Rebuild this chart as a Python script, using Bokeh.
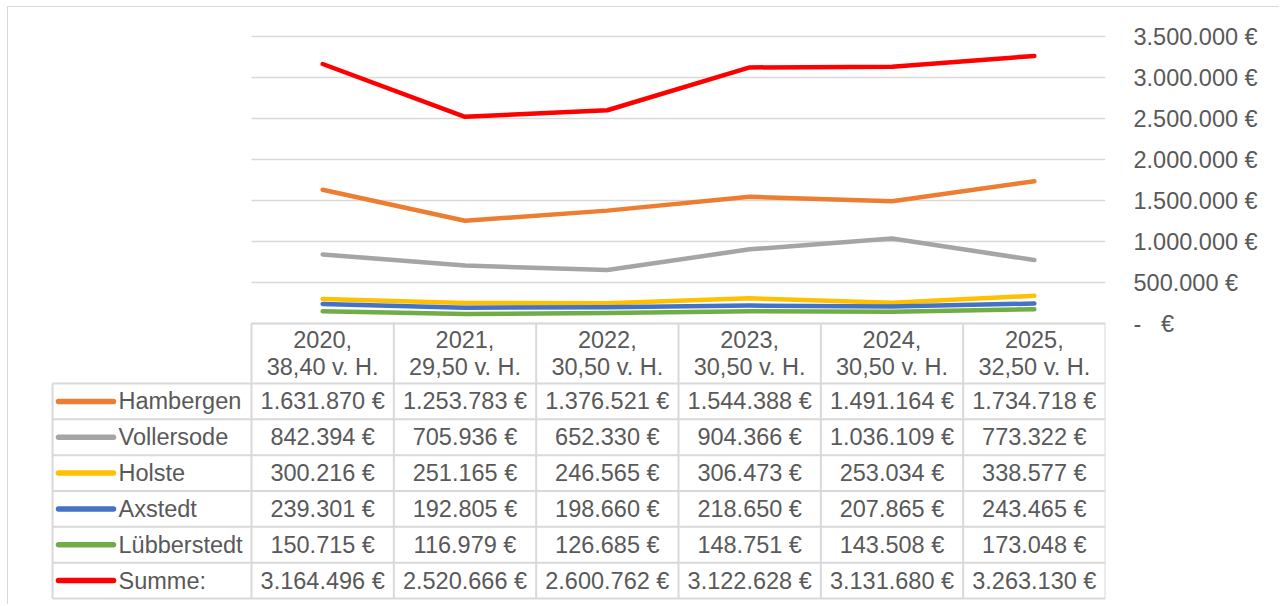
from bokeh.plotting import figure
from bokeh.models import Range1d, LinearAxis, FixedTicker, ColumnDataSource
from bokeh.core.properties import value
from bokeh.embed import file_html
from bokeh.resources import INLINE

# ---------------- data ----------------
years = ["2020", "2021", "2022", "2023", "2024", "2025"]
rates = ["38,40 v. H.", "29,50 v. H.", "30,50 v. H.", "30,50 v. H.", "30,50 v. H.", "32,50 v. H."]
series_names = ["Hambergen", "Vollersode", "Holste", "Axstedt", "Lübberstedt", "Summe:"]
hambergen = [1631870, 1253783, 1376521, 1544388, 1491164, 1734718]
vollersode = [842394, 705936, 652330, 904366, 1036109, 773322]
holste = [300216, 251165, 246565, 306473, 253034, 338577]
axstedt = [239301, 192805, 198660, 218650, 207865, 243465]
luebberstedt = [150715, 116979, 126685, 148751, 143508, 173048]
summe = [3164496, 2520666, 2600762, 3122628, 3131680, 3263130]
series_values = [hambergen, vollersode, holste, axstedt, luebberstedt, summe]
colors = ["#ED7D31", "#A5A5A5", "#FFC000", "#4472C4", "#70AD47", "#FF0000"]
y_ticks = [0, 500000, 1000000, 1500000, 2000000, 2500000, 3000000, 3500000]
y_tick_labels = ["-\u00a0\u00a0\u00a0€", "500.000 €", "1.000.000 €", "1.500.000 €",
                 "2.000.000 €", "2.500.000 €", "3.000.000 €", "3.500.000 €"]

# ---------------- layout (canvas pixels) ----------------
W, H = 1272, 598
FRAME_RIGHT = 1097          # right edge of plot area
PLOT_LEFT = 243             # left edge of plot area / table data columns
ZERO_Y = 316                # pixel row of value 0
TOP_TICK_Y = 29             # pixel row of top tick
HEADER_BOTTOM = 376         # bottom of header row
TABLE_BOTTOM = 591
LEGEND_LEFT = 44
KEY_X0, KEY_X1, LABEL_X = 50, 105, 110

ncat = len(years)
nrow = len(series_names)
COL_W = (FRAME_RIGHT - PLOT_LEFT) / ncat
ROW_H = (TABLE_BOTTOM - HEADER_BOTTOM) / nrow
vpp = y_ticks[-1] / (ZERO_Y - TOP_TICK_Y)   # value per pixel

x_range = Range1d(-PLOT_LEFT / COL_W, ncat)
y_range = Range1d(-(H - ZERO_Y) * vpp, ZERO_Y * vpp)

FONT_NAME = "Liberation Sans"
FONT = value(FONT_NAME)
TXT = "#595959"
FS = "23.5px"
BORDER = "#D9D9D9"

p = figure(width=W, height=H, x_range=x_range, y_range=y_range,
           output_backend="svg", toolbar_location=None,
           x_axis_location=None, y_axis_location=None,
           min_border_left=0, min_border_top=0, min_border_bottom=0,
           min_border_right=W - FRAME_RIGHT,
           outline_line_color=None, background_fill_color="white",
           border_fill_color="white")
p.grid.visible = False
p.styles = {"border-top": "1px solid #D9D9D9", "border-left": "1px solid #D9D9D9",
            "margin-top": "6px", "margin-left": "7px"}

p.extra_y_ranges = {"tbl": Range1d(start=(H - HEADER_BOTTOM) / ROW_H,
                                   end=-HEADER_BOTTOM / ROW_H)}

# right value axis
ax = LinearAxis(ticker=FixedTicker(ticks=y_ticks),
                major_label_overrides={t: l for t, l in zip(y_ticks, y_tick_labels)},
                axis_line_color=None, major_tick_line_color=None, minor_tick_line_color=None,
                major_tick_out=0, major_tick_in=0, major_label_standoff=28,
                major_label_text_font=FONT_NAME, major_label_text_font_size=FS,
                major_label_text_color=TXT)
p.add_layout(ax, "right")

# gridlines over plot area
grid_src = ColumnDataSource(dict(x0=[0] * len(y_ticks), x1=[ncat] * len(y_ticks),
                                 y=y_ticks))
p.segment(x0="x0", x1="x1", y0="y", y1="y", source=grid_src,
          line_color=BORDER, line_width=1.5)

# series lines
xc = [i + 0.5 for i in range(ncat)]
for vals, col in zip(series_values, colors):
    p.line(xc, vals, line_color=col, line_width=4.5, line_cap="round", line_join="round")

# ---------------- data table ----------------
header_h = HEADER_BOTTOM - ZERO_Y
t_head_top = -header_h / ROW_H
leg_x = -(PLOT_LEFT - LEGEND_LEFT) / COL_W

hx0, hx1, hy = [0], [ncat], [t_head_top]
for r in range(nrow + 1):
    hx0.append(leg_x); hx1.append(ncat); hy.append(r)
p.segment(x0=hx0, x1=hx1, y0=hy, y1=hy, y_range_name="tbl",
          line_color=BORDER, line_width=2)

vx, vy0, vy1 = [], [], []
for c in range(ncat + 1):
    vx.append(c); vy0.append(t_head_top); vy1.append(nrow)
vx.append(leg_x); vy0.append(0); vy1.append(nrow)
p.segment(x0=vx, x1=vx, y0=vy0, y1=vy1, y_range_name="tbl",
          line_color=BORDER, line_width=2)

# header text
p.text(x=xc, y=[t_head_top / 2] * ncat,
       text=[f"{y},\n{r}" for y, r in zip(years, rates)],
       y_range_name="tbl", text_align="center", text_baseline="middle",
       text_font=FONT, text_font_size=FS, text_color=TXT, text_line_height=1.03)

def fmt(v):
    return f"{v:,}".replace(",", ".") + " €"

cx, cy, ct = [], [], []
for r, vals in enumerate(series_values):
    for c, v in enumerate(vals):
        cx.append(c + 0.5); cy.append(r + 0.5); ct.append(fmt(v))
p.text(x=cx, y=cy, text=ct, y_range_name="tbl", text_align="center",
       text_baseline="middle", text_font=FONT, text_font_size=FS, text_color=TXT)

# legend keys and names
ky = [r + 0.5 for r in range(nrow)]
kx0 = -(PLOT_LEFT - KEY_X0) / COL_W
kx1 = -(PLOT_LEFT - KEY_X1) / COL_W
lx = -(PLOT_LEFT - LABEL_X) / COL_W
p.segment(x0=[kx0] * nrow, x1=[kx1] * nrow, y0=ky, y1=ky, y_range_name="tbl",
          line_color=colors, line_width=5.5, line_cap="round")
p.text(x=[lx] * nrow, y=ky, text=series_names, y_range_name="tbl",
       text_align="left", text_baseline="middle",
       text_font=FONT, text_font_size=FS, text_color=TXT)

open("out.html", "w").write(file_html(p, INLINE))
